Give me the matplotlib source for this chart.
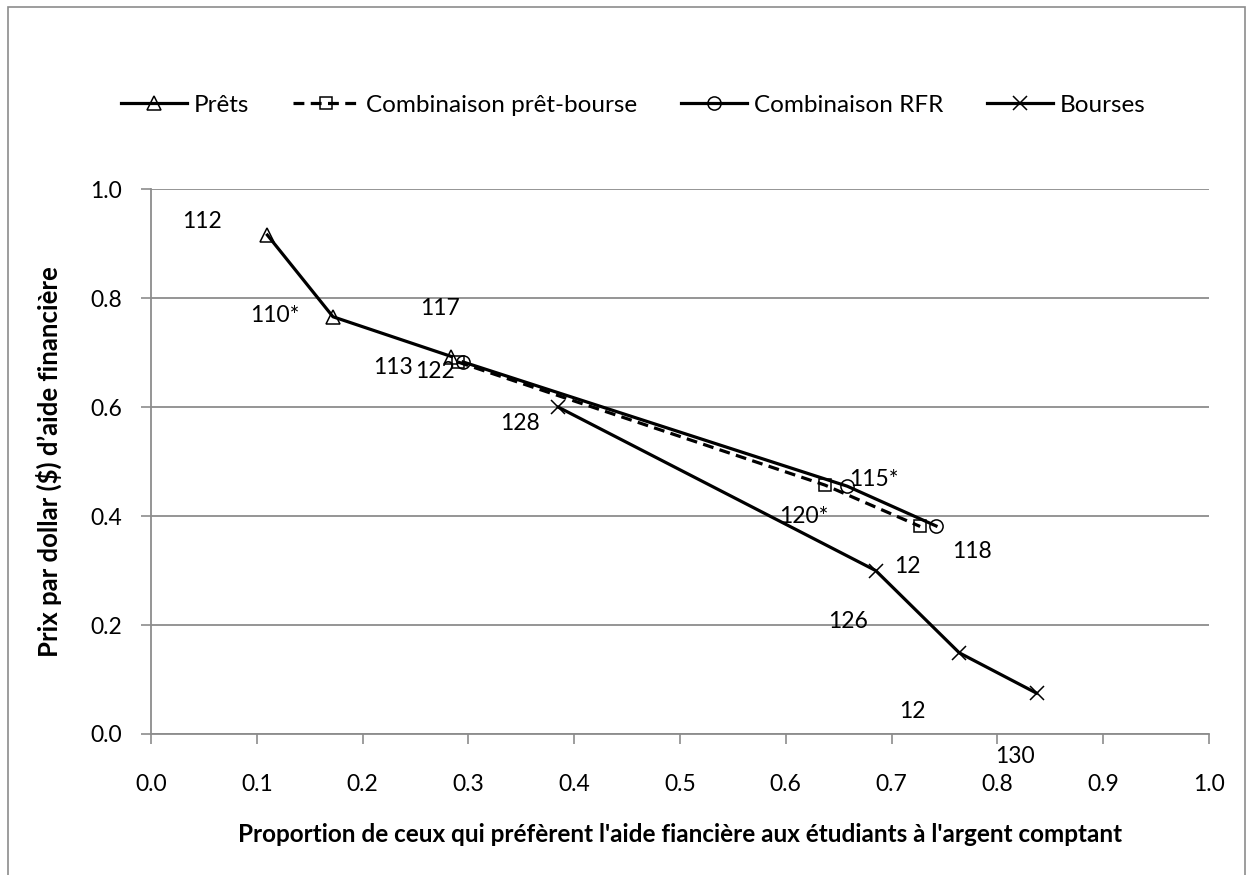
import matplotlib.pyplot as plt
from matplotlib.patches import Rectangle

plt.rcParams['font.family'] = ['Lato', 'DejaVu Sans']

# series
prets_x = [0.110, 0.172, 0.284]
prets_y = [0.916, 0.766, 0.693]

combi_x = [0.290, 0.637, 0.727]
combi_y = [0.683, 0.457, 0.381]

rfr_x = [0.295, 0.658, 0.742]
rfr_y = [0.683, 0.455, 0.382]

bourses_x = [0.385, 0.685, 0.764, 0.837]
bourses_y = [0.600, 0.300, 0.149, 0.075]

# stray data labels of the original chart
point_labels = ['112', '110*', '117', '113', '122', '128', '115*', '120*',
                '118', '12', '126', '12', '130']
label_x = [0.048, 0.117, 0.273, 0.229, 0.268, 0.349, 0.683, 0.617,
           0.776, 0.715, 0.659, 0.720, 0.817]
label_y = [0.940, 0.769, 0.782, 0.673, 0.665, 0.570, 0.468, 0.399,
           0.335, 0.307, 0.206, 0.041, -0.042]

x_ticks = [0.0, 0.1, 0.2, 0.3, 0.4, 0.5, 0.6, 0.7, 0.8, 0.9, 1.0]
y_ticks = [0.0, 0.2, 0.4, 0.6, 0.8, 1.0]

W, H = 1252, 875
fig = plt.figure(figsize=(W / 100, H / 100), dpi=100)

# outer chart border
fig.patches.append(Rectangle((8 / W, -0.01), (1245 - 8) / W, 1 - 7 / H + 0.01,
                             transform=fig.transFigure, fill=False,
                             edgecolor='#8c8c8c', lw=1.2))

ax = fig.add_axes([151 / W, 1 - 734 / H, (1209 - 151) / W, (734 - 189.3) / H])

lw = 2.3
ms = 9.5
ax.plot(prets_x, prets_y, color='black', lw=lw, marker='^', ms=ms,
        mfc='none', mew=1.1, label='Prêts', zorder=3)
ax.plot(combi_x, combi_y, color='black', lw=lw, ls=(0, (3.4, 2.0)), marker='s',
        ms=ms - 0.5, mfc='none', mew=1.1, label='Combinaison prêt-bourse', zorder=3)
ax.plot(rfr_x, rfr_y, color='black', lw=lw, marker='o', ms=ms,
        mfc='none', mew=1.1, label='Combinaison RFR', zorder=3)
ax.plot(bourses_x, bourses_y, color='black', lw=lw, marker='x', ms=ms,
        mew=1.1, label='Bourses', zorder=3)

for txt, lx, ly in zip(point_labels, label_x, label_y):
    ax.text(lx, ly, txt, ha='center', va='center', fontsize=16.5,
            clip_on=False, zorder=4)

ax.set_xlim(0, 1)
ax.set_ylim(0, 1)
ax.set_xticks(x_ticks)
ax.set_yticks(y_ticks)
ax.set_xticklabels([f'{t:.1f}' for t in x_ticks], fontsize=16.5)
ax.set_yticklabels([f'{t:.1f}' for t in y_ticks], fontsize=16.5)
ax.tick_params(axis='both', direction='out', length=7, width=1.2,
               color='#8c8c8c')
ax.tick_params(axis='x', pad=22)
ax.tick_params(axis='y', pad=14)

ax.yaxis.grid(True, color='#8c8c8c', lw=1.3)
ax.set_axisbelow(True)
for side in ['top', 'right']:
    ax.spines[side].set_visible(False)
for side in ['left', 'bottom']:
    ax.spines[side].set_color('#8c8c8c')
    ax.spines[side].set_linewidth(1.3)

ax.set_xlabel("Proportion de ceux qui préfèrent l'aide fiancière aux étudiants à l'argent comptant",
              fontsize=17.5, fontweight='bold', labelpad=20)
ax.set_ylabel('Prix par dollar ($) d’aide financière', fontsize=18.5,
              fontweight='bold', labelpad=20)

fig.legend(loc='center', bbox_to_anchor=(0.506, 1 - 105 / H), ncol=4,
           frameon=False, fontsize=17.5, handlelength=2.7, handletextpad=0.3,
           columnspacing=1.8)

fig.savefig('out.png', dpi=100)
